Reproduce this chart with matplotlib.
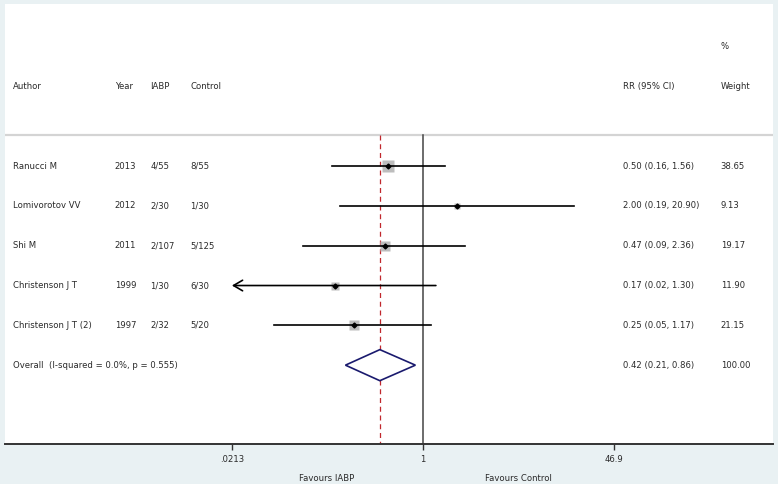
import numpy as np
import matplotlib
matplotlib.use("Agg")
import matplotlib.pyplot as plt
from matplotlib.transforms import blended_transform_factory

# study data
authors = ["Ranucci M", "Lomivorotov VV", "Shi M", "Christenson J T", "Christenson J T (2)"]
years = ["2013", "2012", "2011", "1999", "1997"]
iabp = ["4/55", "2/30", "2/107", "1/30", "2/32"]
control = ["8/55", "1/30", "5/125", "6/30", "5/20"]
rr = [0.50, 2.00, 0.47, 0.17, 0.25]
ci_lo = [0.16, 0.19, 0.09, 0.02, 0.05]
ci_hi = [1.56, 20.90, 2.36, 1.30, 1.17]
weights = [38.65, 9.13, 19.17, 11.90, 21.15]

overall_rr, overall_lo, overall_hi = 0.42, 0.21, 0.86
i_squared, p_het = 0.0, 0.555

xticks = [0.0213, 1, 46.9]
xtick_labels = [".0213", "1", "46.9"]
xmin, xmax = 0.0213, 46.9

plt.rcParams['font.family'] = ['DejaVu Sans']
fs = 6.1
txt_col = "#2a2a2a"

fig = plt.figure(figsize=(7.78, 4.84), dpi=100)
fig.patch.set_facecolor("#e9f1f3")
ax = fig.add_axes([5 / 778, 40 / 484, 768 / 778, 440 / 484])
ax.set_facecolor("white")
ax.set_xscale("log")
ax.set_xlim(2.2e-4, 1160)
ax.set_ylim(6.98, -4.07)
for s in ["top", "left", "right"]:
    ax.spines[s].set_visible(False)
ax.spines["bottom"].set_color("#333333")
ax.spines["bottom"].set_linewidth(1.4)
ax.set_yticks([])
ax.set_xticks(xticks)
ax.set_xticklabels(xtick_labels, fontsize=fs, color=txt_col)
ax.minorticks_off()
ax.tick_params(axis="x", length=4, width=1, color="#333333", pad=4)

tr = blended_transform_factory(ax.transAxes, ax.transData)

# header
ax.text(0.932, -3, "%", transform=tr, fontsize=fs, color=txt_col, va="center")
heads = [(0.0104, "Author"), (0.143, "Year"), (0.189, "IABP"), (0.241, "Control"),
         (0.805, "RR (95% CI)"), (0.932, "Weight")]
for x, h in heads:
    ax.text(x, -2, h, transform=tr, fontsize=fs, color=txt_col, va="center")
ax.axhline(-0.78, color="#d4d4d4", lw=1.6)

# reference lines
ax.plot([1, 1], [-0.78, 6.98], color="#444444", lw=1.1)
ax.plot([overall_rr, overall_rr], [-0.78, 6.98], color="#c0272d", lw=0.9,
        ls=(0, (4, 3)))

# studies
for i in range(len(authors)):
    y = i
    ax.text(0.0104, y, authors[i], transform=tr, fontsize=fs, color=txt_col, va="center")
    ax.text(0.143, y, years[i], transform=tr, fontsize=fs, color=txt_col, va="center")
    ax.text(0.189, y, iabp[i], transform=tr, fontsize=fs, color=txt_col, va="center")
    ax.text(0.241, y, control[i], transform=tr, fontsize=fs, color=txt_col, va="center")
    ax.text(0.805, y, f"{rr[i]:.2f} ({ci_lo[i]:.2f}, {ci_hi[i]:.2f})", transform=tr,
            fontsize=fs, color=txt_col, va="center")
    ax.text(0.932, y, f"{weights[i]:.2f}", transform=tr, fontsize=fs, color=txt_col,
            va="center")
    ms = 9.3 * np.sqrt(weights[i] / max(weights))
    ax.plot(rr[i], y, marker="s", ms=ms, color="#bdbdbd", mec="none", zorder=2)
    lo = max(ci_lo[i], xmin)
    hi = min(ci_hi[i], xmax)
    if ci_lo[i] < xmin:
        ax.annotate("", xy=(lo, y), xytext=(hi, y),
                    arrowprops=dict(arrowstyle="->,head_length=0.65,head_width=0.38",
                                    lw=1.2, color="black", shrinkA=0, shrinkB=0),
                    zorder=3)
    else:
        ax.plot([lo, hi], [y, y], color="black", lw=1.2, zorder=3)
    ax.plot(rr[i], y, marker="D", ms=2.5, color="black", zorder=4)

# overall
yo = len(authors)
ax.text(0.0104, yo, f"Overall  (I-squared = {i_squared:.1f}%, p = {p_het:.3f})",
        transform=tr, fontsize=fs, color=txt_col, va="center")
ax.text(0.805, yo, f"{overall_rr:.2f} ({overall_lo:.2f}, {overall_hi:.2f})",
        transform=tr, fontsize=fs, color=txt_col, va="center")
ax.text(0.932, yo, f"{sum(weights):.2f}", transform=tr, fontsize=fs, color=txt_col,
        va="center")
ax.fill([overall_lo, overall_rr, overall_hi, overall_rr],
        [yo, yo - 0.39, yo, yo + 0.39], facecolor="white", edgecolor="#1a1a6e",
        lw=1.2, zorder=3)

# favours labels
ax.text(0.419, -0.078, "Favours IABP", transform=ax.transAxes, fontsize=fs,
        color=txt_col, ha="center", va="center")
ax.text(0.668, -0.078, "Favours Control", transform=ax.transAxes, fontsize=fs,
        color=txt_col, ha="center", va="center")

fig.savefig("out.png", dpi=100, facecolor=fig.get_facecolor())
